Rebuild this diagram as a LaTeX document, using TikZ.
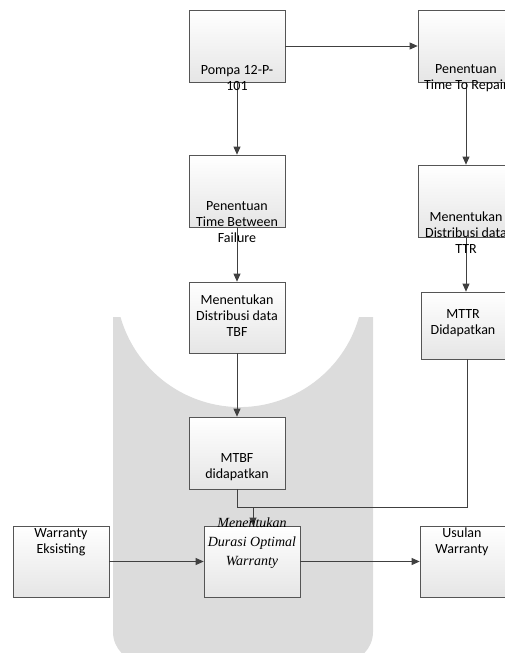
\documentclass[tikz,border=0pt]{standalone}
\usepackage{fontspec}
\setmainfont{Carlito}
\newfontfamily\tnr{Liberation Serif}
\usetikzlibrary{arrows.meta,shadows}
\definecolor{wm}{HTML}{DCDCDC}
\definecolor{ln}{HTML}{404040}
\definecolor{bd}{HTML}{555555}
\tikzset{
  box/.style={draw=bd, line width=0.7pt, minimum width=96pt, minimum height=72pt,
    inner sep=0pt, top color=white, bottom color=black!10,
    drop shadow={shadow xshift=1.2pt, shadow yshift=-1.2pt, fill=black!45, opacity=0.6}},
  lbl/.style={align=center, inner sep=0pt, font=\fontsize{14}{16}\selectfont},
  ilbl/.style={align=center, inner sep=0pt, font=\tnr\itshape\fontsize{14}{19}\selectfont},
  conn/.style={draw=ln, line width=0.8pt},
  arr/.style={conn, -{Triangle[length=8pt,width=7pt]}}
}
\begin{document}
\begin{tikzpicture}[x=1pt,y=-1pt]
\useasboundingbox (0,0) rectangle (505,653);
\clip (0,0) rectangle (505,653);
% watermark
\fill[wm] (373,317) -- (359,317) arc[start angle=15.9,end angle=164.1,radius=124] -- (113,317)
  -- (113,600) [rounded corners=30] -- (113,662) -- (373,662) [sharp corners] -- (373,600) -- cycle;
% boxes
\node[box] (b1) at (237,46) {};
\node[box] (b2) at (466,46) {};
\node[box] (b3) at (237,191) {};
\node[box] (b4) at (466,201) {};
\node[box, minimum height=71pt] (b5) at (237,317.5) {};
\node[box, minimum width=92pt, minimum height=67pt] (b6) at (467,325.5) {};
\node[box] (b7) at (237,453) {};
\node[box, minimum height=71pt] (b8) at (252,561.5) {};
\node[box, minimum height=71pt] (b9) at (61,561.5) {};
\node[box, minimum height=71pt] (b10) at (468,561.5) {};
% connectors
\draw[arr] (b1) -- (b2);
\draw[arr] (b1) -- (b3);
\draw[arr] (b2) -- (b4);
\draw[arr] (b3) -- (b5);
\draw[arr] (b4.south) -- (b4.south |- b6.north);
\draw[arr] (b5) -- (b7);
\coordinate (j) at (253,507);
\draw[conn] (b7.south) |- (j);
\draw[conn] (b6.south) |- (j);
\draw[arr] (j) -- (b8.north -| j);
\draw[arr] (b9) -- (b8);
\draw[arr] (b8) -- (b10);
% labels
\node[lbl] (t1) at (237,78) {Pompa 12-P-\\101};
\node[lbl] (t2) at (466,78) {Penentuan\\Time To Repair};
\node[lbl] (t3) at (237,222) {Penentuan\\Time Between\\Failure};
\node[lbl] (t4) at (466,233) {Menentukan\\Distribusi data\\TTR};
\node[lbl] (t5) at (237,315.5) {Menentukan\\Distribusi data\\TBF};
\node[lbl] (t6) at (463,323) {MTTR\\Didapatkan};
\node[lbl] (t7) at (237,467.5) {MTBF\\didapatkan};
\node[ilbl] (t8) at (252,543) {Menentukan\\Durasi Optimal\\Warranty};
\node[lbl] (t9) at (61,542) {Warranty\\Eksisting};
\node[lbl] (t10) at (462,542) {Usulan\\Warranty};
\end{tikzpicture}
\end{document}
